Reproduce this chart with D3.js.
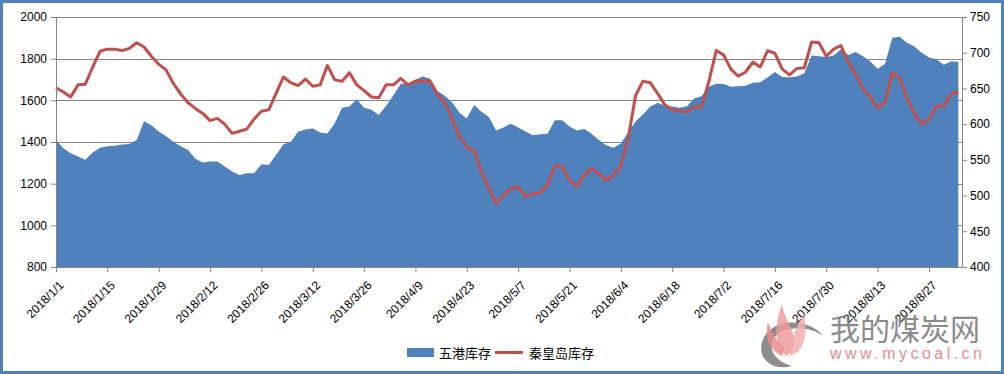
<!DOCTYPE html>
<html>
<head>
<meta charset="utf-8">
<script src="https://cdn.jsdelivr.net/npm/d3@7"></script>
<style>
body { margin: 0; background: #fff; }
svg { display: block; }
text { font-family: "Liberation Sans", Arial, sans-serif; }
</style>
</head>
<body>
<svg id="chart" width="1004" height="374"></svg>
<script>
// data every 2 days starting 2018/1/1
const startDate = new Date(2018, 0, 1);
const dayStep = 2;

const fivePorts = [
    1410, 1370, 1346, 1330, 1315, 1350, 1373, 1380, 1382, 1388,
    1390, 1410, 1500, 1480, 1450, 1428, 1401, 1380, 1362, 1320,
    1302, 1306, 1306, 1282, 1258, 1242, 1250, 1250, 1293, 1290,
    1338, 1389, 1400, 1449, 1460, 1465, 1446, 1441, 1490, 1565,
    1570, 1605, 1564, 1555, 1530, 1573, 1625, 1680, 1682, 1700,
    1715, 1704, 1645, 1622, 1590, 1540, 1513, 1578, 1545, 1520,
    1455, 1470, 1488, 1470, 1450, 1432, 1437, 1440, 1505, 1505,
    1475, 1455, 1462, 1440, 1410, 1384, 1373, 1393, 1447, 1498,
    1532, 1570, 1587, 1575, 1570, 1565, 1572, 1609, 1620, 1665,
    1680, 1678, 1665, 1668, 1670, 1685, 1687, 1710, 1736, 1712,
    1711, 1715, 1730, 1815, 1812, 1808, 1815, 1845, 1818, 1832,
    1812, 1786, 1752, 1775, 1900, 1905, 1876, 1858, 1829, 1806,
    1797, 1771, 1786, 1785
];

const qhdStock = [
    651, 645, 638, 655, 656, 680, 702, 705, 705, 703,
    706, 714, 708, 695, 684, 676, 657, 642, 630, 622,
    615, 605, 608, 600, 587, 590, 593, 607, 618, 620,
    643, 666, 658, 654, 663, 653, 655, 682, 662, 660,
    672, 655, 647, 638, 637, 655, 655, 664, 655, 660,
    660, 660, 642, 630, 607, 583, 568, 563, 533, 510,
    489, 500, 510, 512, 499, 502, 504, 515, 541, 541,
    521, 513, 528, 538, 531, 521, 528, 542, 580, 640,
    660, 658, 643, 627, 620, 619, 617, 624, 624, 660,
    703, 697, 677, 667, 673, 687, 680, 703, 699, 677,
    669, 678, 679, 715, 714, 695, 705, 710, 686, 670,
    650, 638, 623, 630, 672, 665, 637, 615, 600, 607,
    625, 625, 642, 645
];

const tickLabels = ["2018/1/1", "2018/1/15", "2018/1/29", "2018/2/12", "2018/2/26", "2018/3/12",
    "2018/3/26", "2018/4/9", "2018/4/23", "2018/5/7", "2018/5/21", "2018/6/4", "2018/6/18",
    "2018/7/2", "2018/7/16", "2018/7/30", "2018/8/13", "2018/8/27"];
const leftTicks = [800, 1000, 1200, 1400, 1600, 1800, 2000];
const rightTicks = [400, 450, 500, 550, 600, 650, 700, 750];
const seriesNames = ["五港库存", "秦皇岛库存"];

const parseLabel = s => {
    const p = s.split("/").map(Number);
    return new Date(p[0], p[1] - 1, p[2]);
};

const dates = fivePorts.map((d, i) => d3.timeDay.offset(startDate, i * dayStep));
const rows = dates.map((d, i) => ({date: d, ports: fivePorts[i], qhd: qhdStock[i]}));

const m = {left: 56, right: 962, top: 17, bottom: 267};
const svg = d3.select("#chart");

const x = d3.scaleTime()
    .domain([startDate, d3.timeDay.offset(startDate, 247)])
    .range([m.left, m.right]);
const yL = d3.scaleLinear().domain([800, 2000]).range([m.bottom, m.top]);
const yR = d3.scaleLinear().domain([400, 750]).range([m.bottom, m.top]);

// outer frame
svg.append("rect")
    .attr("x", 1.5).attr("y", 1.5)
    .attr("width", 1001).attr("height", 371)
    .attr("fill", "none")
    .attr("stroke", "#4f81bd")
    .attr("stroke-width", 3);

// gridlines
svg.append("g").selectAll("line")
    .data(leftTicks.slice(1))
    .enter().append("line")
    .attr("x1", m.left).attr("x2", m.right)
    .attr("y1", d => Math.round(yL(d)) + 0.5)
    .attr("y2", d => Math.round(yL(d)) + 0.5)
    .attr("stroke", "#868686");

const area = d3.area()
    .x(d => x(d.date))
    .y0(yL(800))
    .y1(d => yL(d.ports));

svg.append("path")
    .datum(rows)
    .attr("d", area)
    .attr("fill", "#4f81bd");

const line = d3.line()
    .x(d => x(d.date))
    .y(d => yR(d.qhd));

svg.append("path")
    .datum(rows)
    .attr("d", line)
    .attr("fill", "none")
    .attr("stroke", "#c0504d")
    .attr("stroke-width", 3)
    .attr("stroke-linejoin", "round");

// axes
const styleAxis = g => {
    g.select(".domain").attr("stroke", "#868686");
    g.selectAll(".tick line").attr("stroke", "#868686");
    g.selectAll(".tick text").attr("fill", "#000").style("font-size", "12px");
};

svg.append("g")
    .attr("transform", `translate(${m.left},0)`)
    .call(d3.axisLeft(yL).tickValues(leftTicks).tickFormat(d3.format("d"))
        .tickSize(5).tickSizeOuter(0).tickPadding(4))
    .call(styleAxis);

svg.append("g")
    .attr("transform", `translate(${m.right},0)`)
    .call(d3.axisRight(yR).tickValues(rightTicks).tickFormat(d3.format("d"))
        .tickSize(5).tickSizeOuter(0).tickPadding(3))
    .call(styleAxis);

svg.append("g")
    .attr("transform", `translate(0,${m.bottom})`)
    .call(d3.axisBottom(x)
        .tickValues(tickLabels.map(parseLabel))
        .tickSize(5).tickSizeOuter(0)
        .tickFormat((d, i) => tickLabels[i]))
    .call(styleAxis)
    .selectAll(".tick text")
    .attr("x", 0).attr("y", 0)
    .attr("dy", "0.35em")
    .attr("text-anchor", "end")
    .attr("transform", "translate(5,16) rotate(-45)");

// legend
const legend = svg.append("g").style("font-size", "13px");
legend.append("rect")
    .attr("x", 407).attr("y", 348)
    .attr("width", 27).attr("height", 9)
    .attr("fill", "#4f81bd");
legend.append("text")
    .attr("x", 439).attr("y", 353).attr("dy", "0.38em")
    .style("font-family", "'Noto Sans CJK SC', sans-serif")
    .text(seriesNames[0]);
legend.append("line")
    .attr("x1", 495).attr("x2", 523)
    .attr("y1", 352.5).attr("y2", 352.5)
    .attr("stroke", "#c0504d").attr("stroke-width", 3);
legend.append("text")
    .attr("x", 529).attr("y", 353).attr("dy", "0.38em")
    .style("font-family", "'Noto Sans CJK SC', sans-serif")
    .text(seriesNames[1]);

// watermark
const wm = svg.append("g").attr("opacity", 0.85);
wm.append("path")
    .attr("d", "M823 336 C810 318 770 316 762 342 C757 360 774 371 792 366 C776 362 767 350 774 338 C784 325 810 326 823 336 Z")
    .attr("fill", "#7a7a7a");
const flames = [
    "M786 356 C772 340 776 322 782 304 C784 318 792 326 794 338 C796 346 792 352 786 356 Z",
    "M790 356 C790 338 798 326 804 312 C806 326 808 340 798 352 Z",
    "M782 356 C770 350 764 338 768 322 C772 334 778 342 784 348 Z"
];
wm.selectAll(".flame")
    .data(flames)
    .enter().append("path")
    .attr("d", d => d)
    .attr("fill", (d, i) => ["#ec8a8a", "#f2a0a0", "#e47878"][i])
    .attr("opacity", 0.85);
wm.append("text")
    .attr("x", 830).attr("y", 340)
    .style("font-family", "'Noto Sans CJK SC', sans-serif")
    .style("font-size", "30px")
    .attr("fill", "#777")
    .text("我的煤炭网");
wm.append("text")
    .attr("x", 830).attr("y", 359)
    .style("font-size", "16px")
    .attr("textLength", 152)
    .attr("lengthAdjust", "spacing")
    .attr("fill", "#e07a7a")
    .text("www.mycoal.cn");
</script>
</body>
</html>
